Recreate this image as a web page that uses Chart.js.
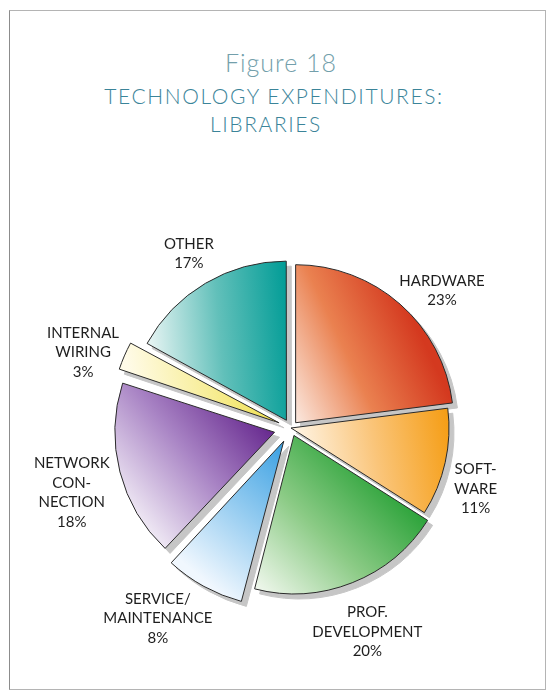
<!DOCTYPE html>
<html>
<head>
<meta charset="utf-8">
<script src="https://cdn.jsdelivr.net/npm/chart.js@4.4.0/dist/chart.umd.min.js"></script>
<style>
  body { margin: 0; background: #fff; }
  #wrap { position: relative; width: 553px; height: 691px; }
  #frame { position: absolute; left: 9px; top: 10px; width: 535px; height: 678px; border: 1px solid #b4b4b4; border-left-color: #8c8c8c; }
  .head { position: absolute; text-align: center; font-family: Lato, sans-serif; font-weight: 300; white-space: nowrap; }
  #fig { left: 181px; width: 200px; top: 47px; font-size: 25px; letter-spacing: 1px; color: #739fab; }
  #sub1 { left: 74px; width: 400px; top: 83px; font-size: 21px; letter-spacing: 1.6px; color: #3b8499; }
  #sub2 { left: 166px; width: 200px; top: 111px; font-size: 21px; letter-spacing: 1.6px; color: #3b8499; }
  canvas { position: absolute; left: 0; top: 0; }
</style>
</head>
<body>
<div id="wrap">
  <div id="frame"></div>
  <div class="head" id="fig">Figure 18</div>
  <div class="head" id="sub1">TECHNOLOGY EXPENDITURES:</div>
  <div class="head" id="sub2">LIBRARIES</div>
  <canvas id="myChart" width="553" height="691"></canvas>
</div>
<script>
const categories = ['HARDWARE', 'SOFTWARE', 'PROF. DEVELOPMENT', 'SERVICE/MAINTENANCE', 'NETWORK CONNECTION', 'INTERNAL WIRING', 'OTHER'];
const shares = [23, 11, 20, 8, 18, 3, 17];
const labelLines = [['HARDWARE'], ['SOFT-', 'WARE'], ['PROF.', 'DEVELOPMENT'], ['SERVICE/', 'MAINTENANCE'], ['NETWORK', 'CON-', 'NECTION'], ['INTERNAL', 'WIRING'], ['OTHER']];

const paleColors = ['#fbe9e0', '#fff6e8', '#f1f8ee', '#f0f7fe', '#ece4f2', '#fffbe8', '#e9f5f4'];
const midColors = ['#ea8150', '#fac57a', '#8ccb86', '#93cbf0', '#a883c4', '#f8ef9e', '#62c0ba'];
const darkColors = ['#d4391f', '#f59d14', '#2ca33a', '#389fe2', '#66288e', '#efdf4e', '#009c96'];
// gradient axis, degrees up from left-to-right
const shadeTilt = [25, 10, 45, 50, 40, 10, 5];
// how far each wedge is pulled away from the middle (px)
const explode = [7, 0, 8, 15, 17, 13, 9];
// label block shift from the default spot outside the rim
const labelNudge = [[30, 0], [6, 21], [9, 34], [-45, 30], [-42, 19], [-40, -3], [-9, -17]];

function arcGeom(arc) {
  return arc.getProps(['x', 'y', 'startAngle', 'endAngle', 'outerRadius'], true);
}

// corner points of a wedge (centre, both ends, and any compass extremes on the rim)
function sectorPoints(arc) {
  const {x, y, startAngle, endAngle, outerRadius} = arcGeom(arc);
  const angles = [startAngle, endAngle];
  for (let k = Math.ceil(startAngle / (Math.PI / 2)); k * Math.PI / 2 < endAngle; k++) {
    angles.push(k * Math.PI / 2);
  }
  const pts = [[x, y]];
  angles.forEach(a => pts.push([x + outerRadius * Math.cos(a), y + outerRadius * Math.sin(a)]));
  return pts;
}

function wedgeGradient(ctx, arc, i) {
  const pts = sectorPoints(arc);
  const t = shadeTilt[i] * Math.PI / 180;
  const ux = Math.cos(t), uy = -Math.sin(t);
  let lo = Infinity, hi = -Infinity, loP;
  pts.forEach(p => {
    const d = p[0] * ux + p[1] * uy;
    if (d < lo) { lo = d; loP = p; }
    if (d > hi) { hi = d; }
  });
  const x0 = loP[0], y0 = loP[1];
  const g = ctx.createLinearGradient(x0, y0, x0 + ux * (hi - lo), y0 + uy * (hi - lo));
  g.addColorStop(0, paleColors[i]);
  g.addColorStop(0.5, midColors[i]);
  g.addColorStop(1, darkColors[i]);
  return g;
}

const wedgeLook = {
  id: 'wedgeLook',
  beforeDatasetsDraw(chart) {
    const ctx = chart.ctx;
    const arcs = chart.getDatasetMeta(0).data;
    arcs.forEach((arc, i) => {
      arc.options.backgroundColor = wedgeGradient(ctx, arc, i);
    });
    // grey drop shadow under every wedge
    arcs.forEach(arc => {
      const bg = arc.options.backgroundColor;
      const bc = arc.options.borderColor;
      arc.options.backgroundColor = '#c6c6c6';
      arc.options.borderColor = '#c6c6c6';
      ctx.save();
      ctx.translate(5, 5);
      arc.draw(ctx);
      ctx.restore();
      arc.options.backgroundColor = bg;
      arc.options.borderColor = bc;
    });
  },
  afterDatasetsDraw(chart) {
    const ctx = chart.ctx;
    const arcs = chart.getDatasetMeta(0).data;
    ctx.save();
    ctx.font = '15px Lato';
    ctx.fillStyle = '#1e1e1e';
    ctx.textAlign = 'center';
    ctx.textBaseline = 'middle';
    arcs.forEach((arc, i) => {
      const {x, y, startAngle, endAngle, outerRadius} = arcGeom(arc);
      const mid = (startAngle + endAngle) / 2;
      const lines = [...labelLines[i], shares[i] + '%'];
      const cx = x + Math.cos(mid) * (outerRadius + 25) + labelNudge[i][0];
      const cy = y + Math.sin(mid) * (outerRadius + 25) + labelNudge[i][1];
      const lh = 19.5;
      lines.forEach((t, k) => ctx.fillText(t, cx, cy + (k - (lines.length - 1) / 2) * lh));
    });
    ctx.restore();
  }
};

new Chart(document.getElementById('myChart'), {
  type: 'pie',
  data: {
    labels: categories,
    datasets: [{
      data: shares,
      backgroundColor: c => darkColors[c.dataIndex],
      borderColor: '#2a2a2a',
      borderWidth: 1,
      offset: explode.map(v => v * 4),
      radius: 158
    }]
  },
  options: {
    responsive: false,
    animation: false,
    events: [],
    layout: { padding: { left: 91, right: 62, top: 228, bottom: 63 } },
    plugins: {
      legend: { display: false },
      tooltip: { enabled: false }
    }
  },
  plugins: [wedgeLook]
});
</script>
</body>
</html>
